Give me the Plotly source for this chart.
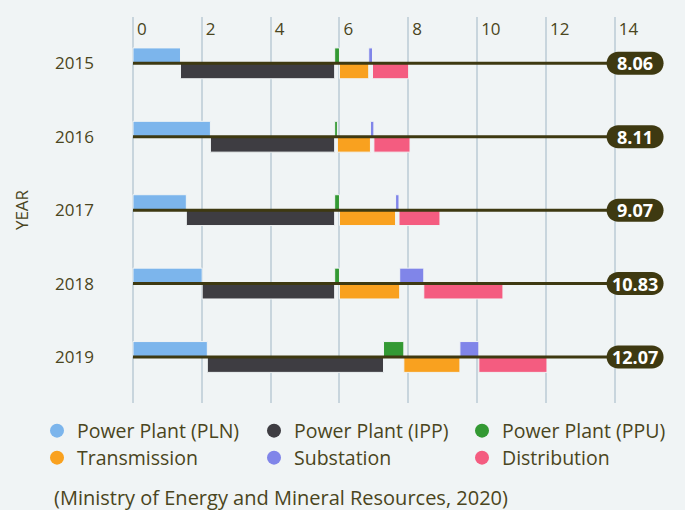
import plotly.graph_objects as go

years = ["2015", "2016", "2017", "2018", "2019"]
pln = [1.38, 2.25, 1.55, 2.01, 2.16]
ipp = [4.48, 3.61, 4.31, 3.85, 5.12]
ppu = [0.14, 0.08, 0.14, 0.14, 0.59]
transmission = [0.85, 0.96, 1.63, 1.75, 1.63]
substation = [0.11, 0.10, 0.10, 0.70, 0.55]
distribution = [1.05, 1.05, 1.19, 2.30, 1.98]
totals = [8.06, 8.11, 9.07, 10.83, 12.07]
x_ticks = [0, 2, 4, 6, 8, 10, 12, 14]

series = [
    ("Power Plant (PLN)", pln, "#7cb5ec", "up"),
    ("Power Plant (IPP)", ipp, "#3e3d42", "down"),
    ("Power Plant (PPU)", ppu, "#339933", "up"),
    ("Transmission", transmission, "#f9a11f", "down"),
    ("Substation", substation, "#8085e9", "up"),
    ("Distribution", distribution, "#f45c80", "down"),
]

BG = "#f0f4f5"
TXT = "#4a4520"
OLIVE = "#3e3911"
HALF = 0.21
PILL_X = 14.59
FONT = "Open Sans"

rows = list(range(len(years)))
fig = go.Figure()

cum = [0.0] * len(years)
for name, vals, color, side in series:
    bases = cum[:]
    fig.add_trace(go.Bar(
        orientation="h", y=rows, x=vals, base=bases,
        width=HALF, offset=-HALF if side == "up" else 0,
        marker=dict(color=color, line=dict(color=BG, width=1)),
        showlegend=False, hoverinfo="skip", name=name,
    ))
    cum = [c + v for c, v in zip(cum, vals)]

# baseline lines per row
lx, ly = [], []
for r in rows:
    lx += [0, PILL_X, None]
    ly += [r, r, None]
fig.add_trace(go.Scatter(x=lx, y=ly, mode="lines", line=dict(color=OLIVE, width=3),
                         showlegend=False, hoverinfo="skip"))

# legend entries (circles), one legend per entry for exact placement
leg_x = [37, 254, 462]
leg_y = [431, 458]
legends = {}
for i, (name, vals, color, side) in enumerate(series):
    key = "legend" if i == 0 else f"legend{i+1}"
    fig.add_trace(go.Scatter(
        x=[None], y=[None], mode="markers", name=name,
        marker=dict(color=color, size=14, symbol="circle"),
        legend=key,
    ))
    legends[key] = dict(orientation="h", xref="container", yref="container",
                        x=leg_x[i % 3] / 685, y=1 - leg_y[i // 3] / 510,
                        xanchor="left", yanchor="middle",
                        font=dict(family=FONT, size=19.5, color=TXT),
                        bgcolor="rgba(0,0,0,0)", borderwidth=0)

k = 0.5523 * 11.5
pill = (f"M -17,-11.5 L 17,-11.5 C {17+k},-11.5 28.5,{-k} 28.5,0 "
        f"C 28.5,{k} {17+k},11.5 17,11.5 L -17,11.5 C {-17-k},11.5 -28.5,{k} -28.5,0 "
        f"C -28.5,{-k} {-17-k},-11.5 -17,-11.5 Z")
shapes, annotations = [], []
for r, t in zip(rows, totals):
    shapes.append(dict(type="path", xref="x", yref="y", xsizemode="pixel", ysizemode="pixel",
                       xanchor=PILL_X, yanchor=r, path=pill, fillcolor=OLIVE,
                       line=dict(width=0), layer="above"))
    annotations.append(dict(x=PILL_X, y=r, xref="x", yref="y", text=f"{t:.2f}", showarrow=False,
                            font=dict(family=FONT, size=18, color="white", weight="bold"),
                            xanchor="center", yanchor="middle"))

PLOT_W = 685 - 131 - 10
annotations.append(dict(x=(51.5 - 131) / PLOT_W, y=-0.246, xref="paper", yref="paper",
                        showarrow=False,
                        text="(Ministry of Energy and Mineral Resources, 2020)",
                        xanchor="left", yanchor="middle",
                        font=dict(family=FONT, size=20, color=TXT)))

fig.update_layout(
    width=685, height=510,
    margin=dict(l=131, r=10, t=17, b=107, autoexpand=False),
    paper_bgcolor=BG, plot_bgcolor=BG,
    barmode="overlay",
    font=dict(family=FONT, color=TXT, size=17),
    shapes=shapes, annotations=annotations,
    xaxis=dict(side="top", range=[-0.058, 15.75], tickvals=x_ticks,
               ticktext=[str(v) for v in x_ticks],
               showgrid=True, gridcolor="#c8d5dd", gridwidth=2, zeroline=False, showline=False,
               ticks="", ticklabelposition="inside right", ticklabelshift=4,
               tickfont=dict(size=17, color=TXT)),
    yaxis=dict(range=[4.627, -0.631], tickvals=rows, ticktext=years, showgrid=False,
               zeroline=False, showline=False, ticks="", ticklabelstandoff=36,
               tickfont=dict(size=17, color=TXT),
               title=dict(text="YEAR", font=dict(size=17, color=TXT), standoff=22)),
    **legends,
)

fig.write_html("out.html", config={"displayModeBar": False},
               post_script="document.body.style.margin='0';")
